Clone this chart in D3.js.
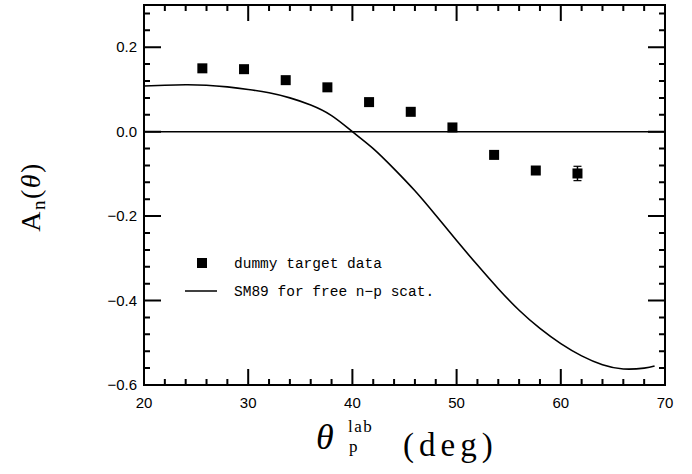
<!DOCTYPE html>
<html>
<head>
<meta charset="utf-8">
<script src="https://cdn.jsdelivr.net/npm/d3@7"></script>
<style>
  body { margin: 0; background: #fff; }
  svg { display: block; }
</style>
</head>
<body>
<svg id="chart"></svg>
<script>
// measured data (dummy target)
const dataTheta = [25.6, 29.6, 33.6, 37.6, 41.6, 45.6, 49.6, 53.6, 57.6, 61.6];
const dataAn    = [0.150, 0.148, 0.122, 0.105, 0.070, 0.047, 0.010, -0.055, -0.092, -0.099];
const dataErr   = [0.008, 0.008, 0.008, 0.008, 0.008, 0.008, 0.008, 0.008, 0.008, 0.017];

// SM89 free n-p curve
const curveTheta = [20, 22, 24, 26, 28, 30, 32, 34, 36, 38, 40, 42, 44, 46, 48, 50, 52, 54, 56, 58, 60, 62, 64, 66, 68, 69];
const curveAn    = [0.108, 0.110, 0.111, 0.110, 0.106, 0.100, 0.092, 0.080, 0.063, 0.038, 0.000, -0.040, -0.088, -0.140, -0.198, -0.258, -0.316, -0.372, -0.423, -0.466, -0.502, -0.531, -0.552, -0.562, -0.560, -0.555];

const xMajor = [20, 30, 40, 50, 60, 70];
const yMajor = [-0.6, -0.4, -0.2, 0.0, 0.2];

const legendLabels = ["dummy target data", "SM89 for free n\u2212p scat."];

const W = 692, H = 474;
const svg = d3.select("#chart").attr("width", W).attr("height", H);

const x = d3.scaleLinear().domain([20, 70]).range([144, 665]);
const y = d3.scaleLinear().domain([-0.6, 0.3]).range([385, 5]);

const xMinor = d3.range(20, 70.01, 2).filter(v => v % 10 !== 0);
const yMinor = d3.range(-0.6, 0.301, 0.04).map(v => +v.toFixed(2)).filter(v => !yMajor.some(m => Math.abs(m - v) < 1e-6));

const fmtY = d3.format(".1f");
const tickFont = "Liberation Sans, Arial, sans-serif";

// frame
svg.append("rect")
    .attr("x", x(20)).attr("y", y(0.3))
    .attr("width", x(70) - x(20)).attr("height", y(-0.6) - y(0.3))
    .attr("fill", "none").attr("stroke", "#000").attr("stroke-width", 2);

// tick marks (inward on all four sides), drawn as one path
const xTicks = xMajor.map(v => ({ v, len: 16 })).concat(xMinor.map(v => ({ v, len: 6 })));
const yTicks = yMajor.map(v => ({ v, len: 17 })).concat(yMinor.map(v => ({ v, len: 6 })));
let tickPath = "";
xTicks.forEach(d => {
    const px = x(d.v);
    tickPath += `M${px},${y(-0.6)}V${y(-0.6) - d.len}`;
    tickPath += `M${px},${y(0.3)}V${y(0.3) + d.len}`;
});
yTicks.forEach(d => {
    const py = y(d.v);
    tickPath += `M${x(20)},${py}H${x(20) + d.len}`;
    tickPath += `M${x(70)},${py}H${x(70) - d.len}`;
});
svg.append("path").attr("d", tickPath)
    .attr("fill", "none").attr("stroke", "#000").attr("stroke-width", 2);

// tick labels
svg.append("g").selectAll("text").data(xMajor).enter().append("text")
    .attr("x", d => x(d)).attr("y", y(-0.6) + 23)
    .attr("text-anchor", "middle")
    .style("font-family", tickFont).style("font-size", "15px")
    .text(d3.format("d"));
svg.append("g").selectAll("text").data(yMajor).enter().append("text")
    .attr("x", x(20) - 7).attr("y", d => y(d)).attr("dy", "0.35em")
    .attr("text-anchor", "end")
    .style("font-family", tickFont).style("font-size", "15px")
    .text(fmtY);

// zero line
svg.append("line")
    .attr("x1", x(20)).attr("x2", x(70))
    .attr("y1", y(0)).attr("y2", y(0))
    .attr("stroke", "#000").attr("stroke-width", 1.5);

// SM89 curve
const line = d3.line().x(d => x(d[0])).y(d => y(d[1])).curve(d3.curveNatural);
svg.append("path")
    .datum(curveTheta.map((t, i) => [t, curveAn[i]]))
    .attr("d", line)
    .attr("fill", "none").attr("stroke", "#000").attr("stroke-width", 1.6);

// data points
const pts = dataTheta.map((t, i) => ({ t, a: dataAn[i], e: dataErr[i] }));
const pg = svg.append("g");
pg.selectAll("line.err").data(pts).enter().append("line")
    .attr("class", "err")
    .attr("x1", d => x(d.t)).attr("x2", d => x(d.t))
    .attr("y1", d => y(d.a - d.e)).attr("y2", d => y(d.a + d.e))
    .attr("stroke", "#000").attr("stroke-width", 1.5);
pg.selectAll("line.cap").data(pts.flatMap(d => [d.a - d.e, d.a + d.e].map(v => ({ t: d.t, v })))).enter().append("line")
    .attr("class", "cap")
    .attr("x1", d => x(d.t) - 4).attr("x2", d => x(d.t) + 4)
    .attr("y1", d => y(d.v)).attr("y2", d => y(d.v))
    .attr("stroke", "#000").attr("stroke-width", 1.2);
pg.selectAll("rect").data(pts).enter().append("rect")
    .attr("x", d => x(d.t) - 5).attr("y", d => y(d.a) - 5)
    .attr("width", 10).attr("height", 10)
    .attr("fill", "#000");

// legend
const lg = svg.append("g").style("font-family", "Liberation Mono, Courier New, monospace").style("font-size", "14.5px");
lg.append("rect").attr("x", 197).attr("y", 258).attr("width", 10).attr("height", 10).attr("fill", "#000");
lg.append("text").attr("x", 234).attr("y", 268).text(legendLabels[0]);
lg.append("line").attr("x1", 185).attr("x2", 217).attr("y1", 291).attr("y2", 291)
    .attr("stroke", "#000").attr("stroke-width", 1.5);
lg.append("text").attr("x", 234).attr("y", 296).text(legendLabels[1]);

// axis titles
const serif = "Liberation Serif, DejaVu Serif, serif";
const yt = svg.append("text")
    .attr("transform", "translate(40,197) rotate(-90)")
    .attr("text-anchor", "middle")
    .style("font-family", serif).style("font-size", "28px").style("letter-spacing", "1.5px");
yt.append("tspan").text("A");
yt.append("tspan").attr("dy", 5).style("font-size", "19px").text("n");
yt.append("tspan").attr("dy", -5).text("(");
yt.append("tspan").style("font-style", "italic").text("\u03b8");
yt.append("tspan").text(")");

const xt = svg.append("g").style("font-family", serif);
xt.append("text").attr("x", 316).attr("y", 449).style("font-size", "36px").style("font-style", "italic").text("\u03b8");
xt.append("text").attr("x", 348).attr("y", 432).style("font-size", "17px").style("letter-spacing", "1.5px").text("lab");
xt.append("text").attr("x", 349).attr("y", 452).style("font-size", "17px").text("p");
xt.append("text").attr("x", 403).attr("y", 456).style("font-size", "33px").style("letter-spacing", "5px").text("(deg)");
</script>
</body>
</html>
